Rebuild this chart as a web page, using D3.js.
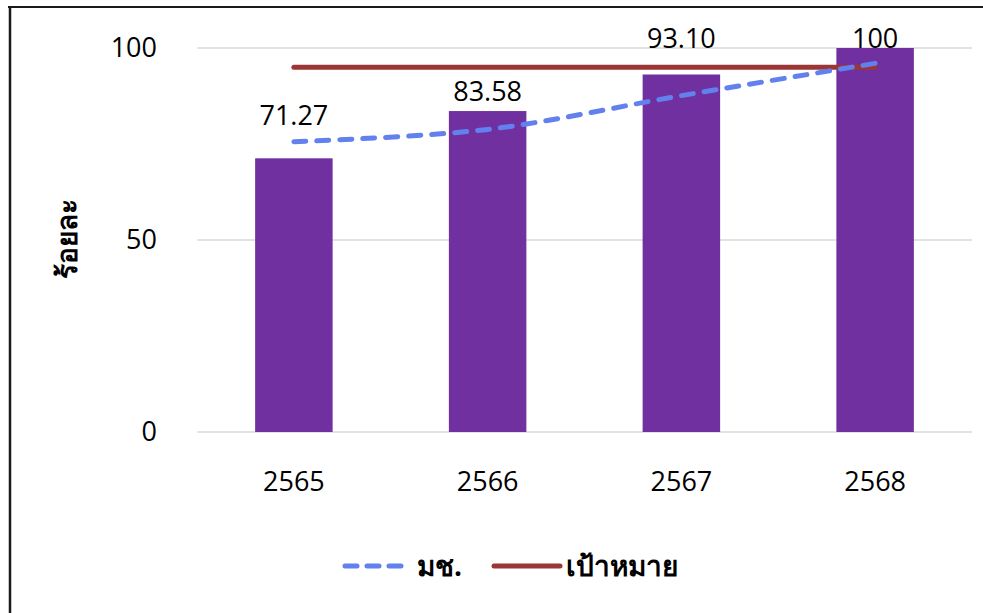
<!DOCTYPE html>
<html>
<head>
<meta charset="utf-8">
<script src="https://cdn.jsdelivr.net/npm/d3@7"></script>
<style>
  html, body { margin: 0; padding: 0; background: #fff; }
  svg { display: block; }
  text { font-family: "Open Sans", "Noto Sans", sans-serif; }
</style>
</head>
<body>
<svg id="chart" width="983" height="613"></svg>
<script>
// ---- data ----
const years = ["2565", "2566", "2567", "2568"];
const barValues = [71.27, 83.58, 93.10, 100];
const barLabels = ["71.27", "83.58", "93.10", "100"];
const cmuValues = [75.6, 78.8, 87.6, 96.0];      // มช. (dashed, smoothed)
const targetValues = [95, 95, 95, 95];           // เป้าหมาย
const yTicks = [0, 50, 100];
const legendNames = ["มช.", "เป้าหมาย"];
const yTitle = "ร้อยละ";

// ---- layout ----
const W = 983, H = 613;
const plot = { left: 197, right: 972, top: 48, bottom: 432 };
const labelLift = [33, 10, 26, 0];
const colors = { bar: "#7030A0", cmu: "#6381EE", target: "#9A3636", grid: "#D9D9D9" };

const svg = d3.select("#chart");

// frame
svg.append("line").attr("x1", 8).attr("x2", W).attr("y1", 7).attr("y2", 7)
  .attr("stroke", "#1a1a1a").attr("stroke-width", 2);
svg.append("line").attr("x1", 10).attr("x2", 10).attr("y1", 6).attr("y2", H)
  .attr("stroke", "#1a1a1a").attr("stroke-width", 2.5);

const x = d3.scaleBand().domain(years).range([plot.left, plot.right]).paddingInner(0.6).paddingOuter(0.3);
const y = d3.scaleLinear().domain([0, 100]).range([plot.bottom, plot.top]);

// gridlines
svg.append("g").selectAll("line").data(yTicks).join("line")
  .attr("x1", plot.left).attr("x2", plot.right)
  .attr("y1", d => y(d)).attr("y2", d => y(d))
  .attr("stroke", colors.grid).attr("stroke-width", 1.5);

// y axis labels
const yAxis = d3.axisLeft(y).tickValues(yTicks).tickSize(0).tickPadding(0);
const gy = svg.append("g").attr("transform", `translate(${plot.left - 40},0)`).call(yAxis);
gy.select(".domain").remove();
gy.selectAll("text").attr("font-size", 27).attr("fill", "#000")
  .attr("font-family", "'Open Sans', 'Noto Sans', sans-serif").attr("dy", "0.3em");

// x axis labels
const xAxis = d3.axisBottom(x).tickSize(0).tickPadding(0);
const gx = svg.append("g").attr("transform", `translate(0,${plot.bottom + 40})`).call(xAxis);
gx.select(".domain").remove();
gx.selectAll("text").attr("font-size", 27).attr("fill", "#000")
  .attr("font-family", "'Open Sans', 'Noto Sans', sans-serif").attr("dy", "0.7em");

// bars
svg.append("g").selectAll("rect").data(barValues).join("rect")
  .attr("x", (d, i) => x(years[i]))
  .attr("width", x.bandwidth())
  .attr("y", d => y(d))
  .attr("height", d => y(0) - y(d))
  .attr("fill", colors.bar);

const cx = i => x(years[i]) + x.bandwidth() / 2;

// target line
const straight = d3.line().x((d, i) => cx(i)).y(d => y(d));
svg.append("path").datum(targetValues)
  .attr("d", straight).attr("fill", "none")
  .attr("stroke", colors.target).attr("stroke-width", 5).attr("stroke-linecap", "round");

// มช. dashed smoothed line
const smooth = d3.line().x((d, i) => cx(i)).y(d => y(d)).curve(d3.curveCatmullRom.alpha(0.5));
svg.append("path").datum(cmuValues)
  .attr("d", smooth).attr("fill", "none")
  .attr("stroke", colors.cmu).attr("stroke-width", 5)
  .attr("stroke-dasharray", "12,11").attr("stroke-linecap", "round");

// data labels
svg.append("g").selectAll("text").data(barValues).join("text")
  .attr("x", (d, i) => cx(i))
  .attr("y", (d, i) => y(d) - labelLift[i])
  .attr("text-anchor", "middle")
  .attr("font-size", 27).attr("fill", "#000")
  .text((d, i) => barLabels[i]);

// y title
svg.append("text")
  .attr("transform", "translate(77,239) rotate(-90)")
  .attr("text-anchor", "middle")
  .attr("font-size", 28).attr("font-weight", "bold").attr("fill", "#000")
  .text(yTitle);

// legend
const lg = svg.append("g");
const legY = 566;
lg.append("line").attr("x1", 345).attr("x2", 407).attr("y1", legY).attr("y2", legY)
  .attr("stroke", colors.cmu).attr("stroke-width", 5)
  .attr("stroke-dasharray", "12,10").attr("stroke-linecap", "round");
lg.append("text").attr("x", 417).attr("y", legY + 10)
  .attr("font-size", 28).attr("font-weight", "bold").text(legendNames[0]);
lg.append("line").attr("x1", 494).attr("x2", 560).attr("y1", legY).attr("y2", legY)
  .attr("stroke", colors.target).attr("stroke-width", 5).attr("stroke-linecap", "round");
lg.append("text").attr("x", 566).attr("y", legY + 10)
  .attr("font-size", 28).attr("font-weight", "bold").text(legendNames[1]);
</script>
</body>
</html>
